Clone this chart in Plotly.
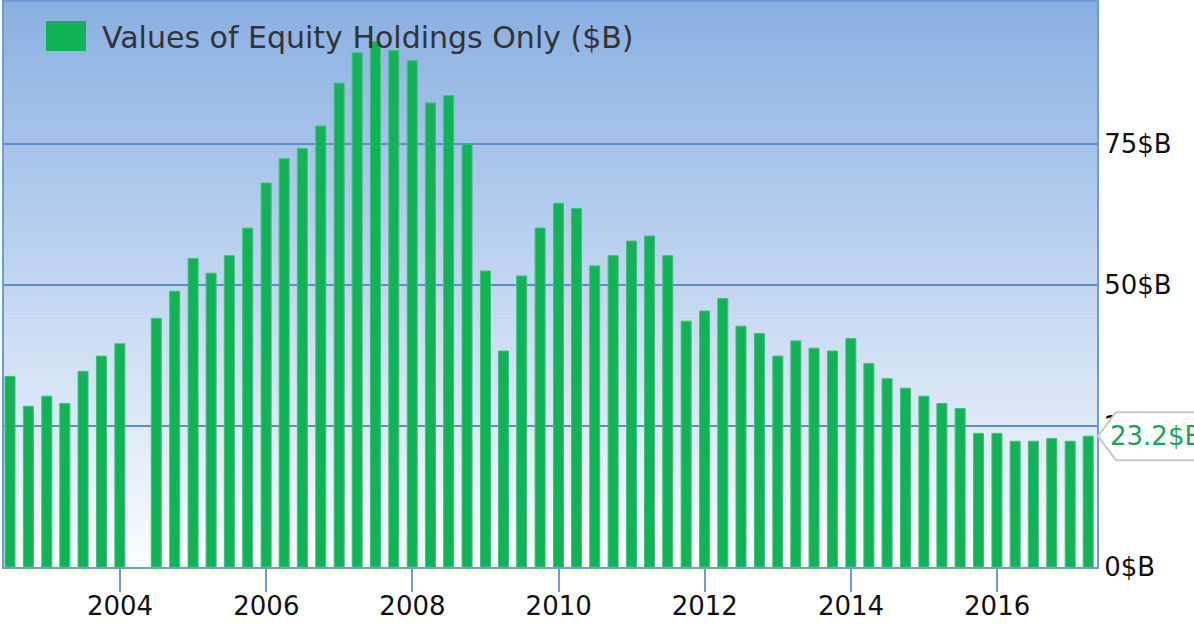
import plotly.graph_objects as go

# ---- data ----
quarter_dates = [
    "2002-06-30", "2002-09-30", "2002-12-31",
    "2003-03-31", "2003-06-30", "2003-09-30", "2003-12-31",
    "2004-03-31", "2004-06-30", "2004-09-30", "2004-12-31",
    "2005-03-31", "2005-06-30", "2005-09-30", "2005-12-31",
    "2006-03-31", "2006-06-30", "2006-09-30", "2006-12-31",
    "2007-03-31", "2007-06-30", "2007-09-30", "2007-12-31",
    "2008-03-31", "2008-06-30", "2008-09-30", "2008-12-31",
    "2009-03-31", "2009-06-30", "2009-09-30", "2009-12-31",
    "2010-03-31", "2010-06-30", "2010-09-30", "2010-12-31",
    "2011-03-31", "2011-06-30", "2011-09-30", "2011-12-31",
    "2012-03-31", "2012-06-30", "2012-09-30", "2012-12-31",
    "2013-03-31", "2013-06-30", "2013-09-30", "2013-12-31",
    "2014-03-31", "2014-06-30", "2014-09-30", "2014-12-31",
    "2015-03-31", "2015-06-30", "2015-09-30", "2015-12-31",
    "2016-03-31", "2016-06-30", "2016-09-30", "2016-12-31",
    "2017-03-31",
]
equity_values = [
    33.8, 28.5, 30.3,
    29.0, 34.7, 37.4, 39.6,
    None, 44.1, 48.9, 54.7,
    52.1, 55.2, 60.1, 68.1,
    72.4, 74.2, 78.2, 85.8,
    91.2, 93.2, 91.6, 89.8,
    82.3, 83.6, 75.0, 52.5,
    38.3, 51.6, 60.1, 64.5,
    63.6, 53.4, 55.2, 57.8,
    58.7, 55.2, 43.6, 45.4,
    47.6, 42.7, 41.4, 37.4,
    40.1, 38.8, 38.3, 40.5,
    36.1, 33.4, 31.7, 30.3,
    29.0, 28.1, 23.7, 23.7,
    22.3, 22.3, 22.8, 22.3,
    23.2,
]
series_name = "Values of Equity Holdings Only ($B)"
y_tick_values = [0, 25, 50, 75]
y_tick_labels = ["0$B", "25$B", "50$B", "75$B"]

# ---- style ----
FONT = "DejaVu Sans"
BAR_COLOR = "#12b257"
GRID_COLOR = "#5b8dd6"
LINE_COLOR = "#6b9bd9"
Y_MAX = 100.2
X_RANGE = ["2002-05-31", "2017-05-14"]
BAR_WIDTH_MS = 50 * 86400000

fig = go.Figure()
fig.add_trace(go.Bar(
    x=quarter_dates,
    y=equity_values,
    name=series_name,
    width=BAR_WIDTH_MS,
    marker=dict(color=BAR_COLOR, line=dict(color="#3cc27a", width=1)),
    showlegend=False,
))

# gradient background of the plot area
shapes = []
n = 80
top = (138, 176, 226)
bot = (250, 252, 255)
for i in range(n):
    t = i / (n - 1)
    c = tuple(round(bot[k] + (top[k] - bot[k]) * t) for k in range(3))
    shapes.append(dict(
        type="rect", xref="paper", yref="paper",
        x0=0, x1=1, y0=i / n, y1=(i + 1) / n + 0.001,
        fillcolor="rgb(%d,%d,%d)" % c, line=dict(width=0), layer="below",
    ))

# legend (manual, large swatch)
shapes.append(dict(
    type="rect", xref="paper", yref="paper",
    x0=0.0384, x1=0.075, y0=0.9133, y1=0.9664,
    fillcolor=BAR_COLOR, line=dict(width=0), layer="above",
))

# callout for the last value
last_val = equity_values[-1]
shapes.append(dict(
    type="path", xref="paper", yref="paper",
    xsizemode="pixel", ysizemode="pixel",
    xanchor=1.0, yanchor=last_val / Y_MAX,
    path="M 1,0 L 19,24 L 130,24 L 130,-24 L 19,-24 Z",
    fillcolor="white", line=dict(color="#c8c8c8", width=2), layer="above",
))

annotations = [
    dict(
        text=series_name, xref="paper", yref="paper",
        x=0.0878, y=0.937, xanchor="left", yanchor="middle",
        showarrow=False, font=dict(family=FONT, size=30, color="#333333"),
    ),
    dict(
        text="%.1f$B" % last_val, xref="paper", yref="y",
        x=1.0, y=last_val, xanchor="left", yanchor="middle", xshift=11,
        showarrow=False, font=dict(family=FONT, size=26, color="#18a558"),
    ),
]

fig.update_layout(
    width=1194, height=624,
    margin=dict(l=4, r=97, t=2, b=57),
    paper_bgcolor="white",
    plot_bgcolor="rgba(0,0,0,0)",
    shapes=shapes,
    annotations=annotations,
    xaxis=dict(
        type="date", range=X_RANGE, automargin=False,
        tick0="2004-01-01", dtick="M24", tickformat="%Y",
        showgrid=False, zeroline=False,
        ticks="outside", ticklen=23, tickwidth=2, tickcolor=LINE_COLOR,
        ticklabelstandoff=-8,
        showline=True, linecolor=LINE_COLOR, linewidth=2, mirror=True,
        tickfont=dict(family=FONT, size=26, color="#111111"),
    ),
    yaxis=dict(
        side="right", range=[0, Y_MAX], automargin=False,
        tickvals=y_tick_values, ticktext=y_tick_labels,
        showgrid=True, gridcolor=GRID_COLOR, gridwidth=2,
        zeroline=False, ticks="",
        showline=True, linecolor=LINE_COLOR, linewidth=2, mirror=True,
        tickfont=dict(family=FONT, size=26, color="#111111"),
    ),
)

fig.write_html("out.html")
